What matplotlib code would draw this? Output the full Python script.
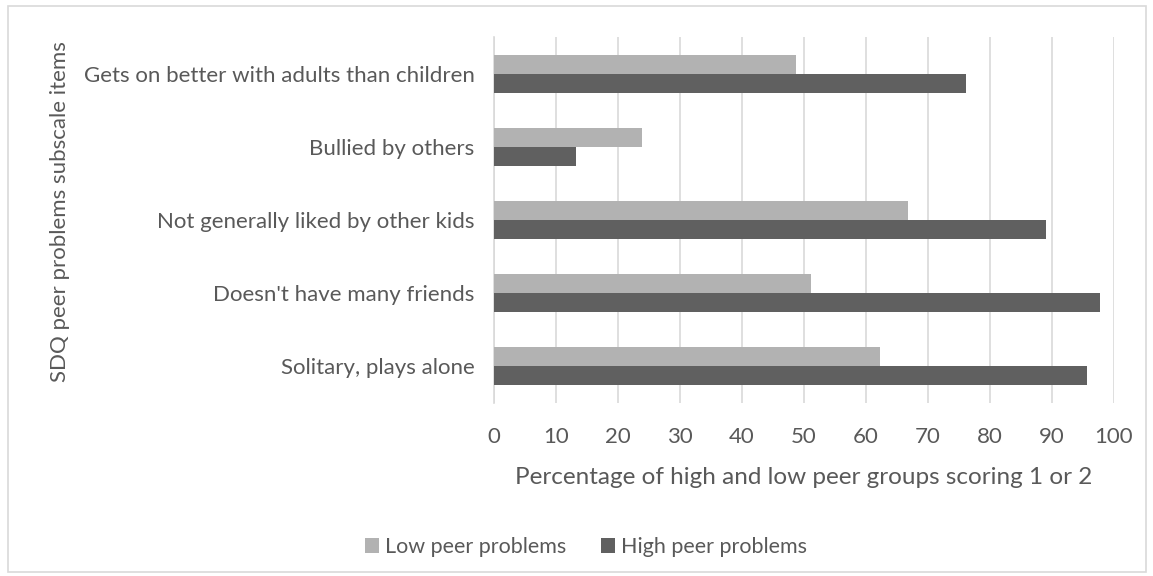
import numpy as np
import matplotlib
matplotlib.use("Agg")
from matplotlib import pyplot as plt
from matplotlib.patches import Rectangle

categories = ["Solitary, plays alone", "Doesn't have many friends",
              "Not generally liked by other kids", "Bullied by others",
              "Gets on better with adults than children"]
low_peer = [62.2, 51.1, 66.7, 23.9, 48.7]
high_peer = [95.6, 97.8, 89.1, 13.3, 76.1]
series_names = ["Low peer problems", "High peer problems"]
xticks = list(range(0, 101, 10))

text_color = "#595959"
plt.rcParams["font.family"] = ["Lato", "DejaVu Sans"]

fig = plt.figure(figsize=(11.53, 5.76), dpi=100)
ax = fig.add_axes([494 / 1153, 1 - 403 / 576, 620 / 1153, 366 / 576])

y = np.arange(len(categories))
h = 0.26
ax.barh(y + h / 2, low_peer, height=h, color="#B2B2B2", label=series_names[0], zorder=3)
ax.barh(y - h / 2, high_peer, height=h, color="#606060", label=series_names[1], zorder=3)

ax.set_xlim(0, 100)
ax.set_ylim(-0.5, len(categories) - 0.5)
ax.set_xticks(xticks)
ax.set_yticks(y)
ax.set_yticklabels(categories)
ax.tick_params(axis="both", length=0, labelsize=16, colors=text_color)
ax.tick_params(axis="x", pad=17)
ax.tick_params(axis="y", pad=14)
ax.grid(axis="x", color="#D9D9D9", linewidth=1.2, zorder=0)
for s in ["top", "right", "bottom"]:
    ax.spines[s].set_visible(False)
ax.spines["left"].set_color("#D9D9D9")
ax.spines["left"].set_linewidth(1.2)

ax.set_xlabel("Percentage of high and low peer groups scoring 1 or 2",
              fontsize=17.5, color=text_color, labelpad=15)
fig.text(60 / 1153, 1 - 212 / 576, "SDQ peer problems subscale items", rotation=90,
         ha="center", va="center", fontsize=16, color=text_color)

fig.legend(loc="center", bbox_to_anchor=(586 / 1153, 1 - 547 / 576), ncol=2,
           frameon=False, fontsize=15.5, labelcolor=text_color,
           handlelength=0.65, handleheight=0.65, handletextpad=0.3, columnspacing=1.6)

fig.patches.append(Rectangle((8 / 1153, 4 / 576), 1138 / 1153, 566 / 576,
                             transform=fig.transFigure, fill=False,
                             edgecolor="#D9D9D9", linewidth=1.2))

fig.savefig("out.png", dpi=100)
